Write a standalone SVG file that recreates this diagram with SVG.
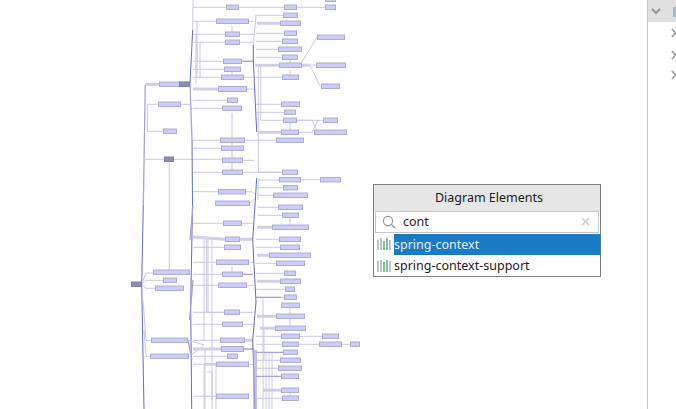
<svg xmlns="http://www.w3.org/2000/svg" width="676" height="409" viewBox="0 0 676 409">
<style>
.n rect{fill:#ccccfa;stroke:#adadd0;stroke-width:1}
.d rect{fill:#8c8cb8;stroke:#8080aa;stroke-width:1}
.l{fill:none;stroke:#c9c9e4;stroke-width:1}
.t{fill:none;stroke:#cfcfe6;stroke-width:3}
.s{fill:none;stroke:#6a6ac2;stroke-width:1}
.m{fill:none;stroke:#a4a4da;stroke-width:1.3}
text{font-family:"Noto Sans","DejaVu Sans",sans-serif;fill:#1c1c1c}
.b{fill:none;stroke-width:1.6}
</style>
<rect width="676" height="409" fill="#fff"/>
<g id="connectors">
<path class="s" d="M143.300 205L141.700 284L144 409"/>
<path class="m" d="M145.300 84.500L143.300 205"/>
<path class="t" d="M145.300 84.300H159"/>
<path class="l" d="M147.300 104.300V131.300H163M147.300 104.300H158M144 159.300H165M174 159.300H222M169.300 160V272M141.700 284.300L146 273H153M141.700 284.300L146 280.300H163M141.700 284.300L146 288.300H155M143 300L146 340.300H151M144 330L146 356.300H150M181 104.300H190L192 110"/>
<path class="l" d="M193 0L192.700 30"/>
<path class="s" d="M192.700 30L190 84M192 140L192.500 205L190.700 305L191.700 409"/>
<path class="m" d="M190 84L192 140M193 205L190 240M193 280L189.500 320M188 340L192 360"/>
<path class="l" d="M193 7.300H226M239 7.300H284M297 7.300H325M193 21.300H216M193 34.300H225M193 42.300H225M193 61.300H223M193 69.300H224M193 77.300H221M193 100.300H227M193 108.300H222M193 140.300H220M193 148.300H221M193 172.300H222M193 191.700H218M193 223.300H223M193 247.300H224M193 262.300H216M193 274.300H222M193 285.300H218M193 312.300H224M193 324.300H222M193 340.300H220M193 349H221M193 356.300H227M193 396.300H216M193 364.300H216M197 21.300V77.300M196 34.300V84M197 42.300V61M200 42.300V78M232 26V34M232 69V77M232 113V172M232 266V274M245 140.300H276M243 160.300H254M243 172.300H282M249 21.300H254M240 34.300H254M240 42.300H254M242 61.300H254M244 77.300H254M247 89H254M245 191.700H252L256 195M250 203L256 198M241.700 223.300H254M240 312.300H253M243 324.300H253M249 262.300H254M247 285.300H254M249 364.300H254"/>
<path class="l" d="M204 239V340M206.500 239V312.300M208 239V312.300H224M212 240V400M205 349V409M204 364.300V409M206 396.300H216M207 372H212V409M216 364.300V409M204 345L188 340M204 345L190 356"/>
<path class="t" d="M193 89H218M193 237L225 239.300M240 239.300H253M244 340.300H253M193 349H221M204 364.300H216"/>
<path class="m" d="M242 61.300H253M243 274.300H253M243.700 349H254"/>
<path class="l" d="M256 15L253.300 45"/>
<path class="s" d="M253.300 45V60L256.700 132M256.700 178L255 205L252.700 240L256 302L252.700 340L255 409"/>
<path class="m" d="M254 350V409M256 350V409"/>
<path class="l" d="M256 15.300H283M256 33.300H284M256 41.300H282M256 49.300H278M256 57.300H282M258.300 66V172.300H282M260.700 66V120.300H283M256 77.300H282M256 104.300H281M256 112.300H284M297 120.300H323M299 132.300H312L318 120.300M297 120.300H312L318 132.300H314M290 121V132M290 60V65M290 71V77M304 140.300H276M258 180H279M301 179.700H320M258 180V200M258 187.700H283M258 195.300H273M258 207.300H278M258 215.300H282M290 216V227M256 239.300H279M256 247.300H280M256 263.300H276M256 273.300H284M256 289.300H285M256 297.300H284M256 336.300H281M300 336.300H322M256 344.300H282M299 344.300H319M342 344.300H350M256 360.300H280M256 368.300H278M256 398.300H282M290 391V398M290 302V316M290 317V328M300 65L317 37M301 65H316M310 65L320 86M263 298V409M266 352V409M269 352V409M272 352V409M264 330V360"/>
<path class="t" d="M257 23.300H280M255 65.300H279M302 65.300H310M258 132.300H281M257 227.300H272M257 255.300H269M257 281.300H280M257 316.300H276M260 328.300H275M263 390.300H281"/>
<path class="m" d="M256 297.300H281M256 352.300H283M256 376.300H281"/>
</g>
<g class="n">
<g id="n1"><rect x="325.500" y="-3" width="10" height="4.500"/></g>
<g id="n2"><rect x="226.500" y="5" width="12" height="4.500"/></g>
<g id="n3"><rect x="284.500" y="5" width="12" height="4.500"/></g>
<g id="n4"><rect x="325.500" y="5" width="10" height="4.500"/></g>
<g id="n5"><rect x="283.500" y="13" width="14" height="4.500"/></g>
<g id="n6"><rect x="216.500" y="19" width="32" height="4.500"/></g>
<g id="n7"><rect x="280.500" y="21" width="20" height="4.500"/></g>
<g id="n8"><rect x="284.500" y="31" width="12" height="4.500"/></g>
<g id="n9"><rect x="225.500" y="32" width="14" height="4.500"/></g>
<g id="n10"><rect x="317.500" y="35" width="27" height="4.500"/></g>
<g id="n11"><rect x="282.500" y="39" width="15" height="4.500"/></g>
<g id="n12"><rect x="225.500" y="40" width="14" height="4.500"/></g>
<g id="n13"><rect x="278.500" y="47" width="23" height="4.500"/></g>
<g id="n14"><rect x="282.500" y="55" width="15" height="4.500"/></g>
<g id="n15"><rect x="223.500" y="59" width="18" height="4.500"/></g>
<g id="n16"><rect x="279.500" y="63" width="22" height="4.500"/></g>
<g id="n17"><rect x="316.500" y="63" width="29" height="4.500"/></g>
<g id="n18"><rect x="224.500" y="67" width="16" height="4.500"/></g>
<g id="n19"><rect x="221.500" y="75" width="22" height="4.500"/></g>
<g id="n20"><rect x="282.500" y="75" width="16" height="4.500"/></g>
<g id="n21"><rect x="159.500" y="82" width="30" height="4.500"/></g>
<g id="n22"><rect x="321.500" y="84" width="18" height="4.500"/></g>
<g id="n23"><rect x="218.500" y="86.500" width="28" height="5"/></g>
<g id="n24"><rect x="227.500" y="98" width="10" height="4.500"/></g>
<g id="n25"><rect x="281.500" y="102" width="18" height="4.500"/></g>
<g id="n26"><rect x="158.500" y="102" width="22" height="4.500"/></g>
<g id="n27"><rect x="222.500" y="106" width="19" height="4.500"/></g>
<g id="n28"><rect x="284.500" y="110" width="11" height="4.500"/></g>
<g id="n29"><rect x="283.500" y="118" width="13" height="4.500"/></g>
<g id="n30"><rect x="323.500" y="118" width="14" height="4.500"/></g>
<g id="n31"><rect x="163.500" y="129" width="13" height="4.500"/></g>
<g id="n32"><rect x="281.500" y="130" width="17" height="4.500"/></g>
<g id="n33"><rect x="314.500" y="130" width="32" height="4.500"/></g>
<g id="n34"><rect x="220.500" y="138" width="24" height="4.500"/></g>
<g id="n35"><rect x="276.500" y="138" width="27" height="4.500"/></g>
<g id="n36"><rect x="221.500" y="146" width="22" height="4.500"/></g>
<g id="n37"><rect x="222.500" y="158" width="20" height="4.500"/></g>
<g id="n38"><rect x="222.500" y="170" width="20" height="4.500"/></g>
<g id="n39"><rect x="282.500" y="170" width="15" height="4.500"/></g>
<g id="n40"><rect x="279.500" y="177.500" width="21" height="4.500"/></g>
<g id="n41"><rect x="320.500" y="177.500" width="20" height="4.500"/></g>
<g id="n42"><rect x="283.500" y="185.500" width="14" height="4.500"/></g>
<g id="n43"><rect x="218.500" y="189.500" width="27" height="4.500"/></g>
<g id="n44"><rect x="273.500" y="193" width="34" height="4.500"/></g>
<g id="n45"><rect x="215.500" y="201" width="34" height="4.500"/></g>
<g id="n46"><rect x="278.500" y="205" width="24" height="4.500"/></g>
<g id="n47"><rect x="282.500" y="213" width="16" height="4.500"/></g>
<g id="n48"><rect x="223.500" y="221" width="18" height="4.500"/></g>
<g id="n49"><rect x="272.500" y="225" width="36" height="4.500"/></g>
<g id="n50"><rect x="225.500" y="237" width="14" height="4.500"/></g>
<g id="n51"><rect x="279.500" y="237" width="21" height="4.500"/></g>
<g id="n52"><rect x="224.500" y="245" width="16" height="4.500"/></g>
<g id="n53"><rect x="280.500" y="245" width="19" height="4.500"/></g>
<g id="n54"><rect x="269.500" y="253" width="41" height="4.500"/></g>
<g id="n55"><rect x="216.500" y="260" width="32" height="4.500"/></g>
<g id="n56"><rect x="276.500" y="261" width="28" height="4.500"/></g>
<g id="n57"><rect x="153.500" y="270" width="36" height="4.500"/></g>
<g id="n58"><rect x="222.500" y="272" width="20" height="4.500"/></g>
<g id="n59"><rect x="284.500" y="271" width="11" height="4.500"/></g>
<g id="n60"><rect x="163.500" y="278" width="13" height="4.500"/></g>
<g id="n61"><rect x="280.500" y="279" width="20" height="4.500"/></g>
<g id="n62"><rect x="218.500" y="283" width="28" height="4.500"/></g>
<g id="n63"><rect x="155.500" y="286" width="28" height="4.500"/></g>
<g id="n64"><rect x="285.500" y="287" width="9" height="4.500"/></g>
<g id="n65"><rect x="284.500" y="295" width="12" height="4.500"/></g>
<g id="n66"><rect x="281.500" y="303" width="18" height="4.500"/></g>
<g id="n67"><rect x="224.500" y="310" width="15" height="4.500"/></g>
<g id="n68"><rect x="276.500" y="314" width="28" height="4.500"/></g>
<g id="n69"><rect x="222.500" y="322" width="20" height="4.500"/></g>
<g id="n70"><rect x="275.500" y="326" width="30" height="4.500"/></g>
<g id="n71"><rect x="281.500" y="334" width="18" height="4.500"/></g>
<g id="n72"><rect x="322.500" y="334" width="16" height="4.500"/></g>
<g id="n73"><rect x="151.500" y="338" width="36" height="4.500"/></g>
<g id="n74"><rect x="220.500" y="338" width="24" height="4.500"/></g>
<g id="n75"><rect x="282.500" y="342" width="16" height="4.500"/></g>
<g id="n76"><rect x="319.500" y="342" width="22" height="4.500"/></g>
<g id="n77"><rect x="350.500" y="342" width="9" height="4.500"/></g>
<g id="n78"><rect x="221.500" y="346.500" width="22" height="5"/></g>
<g id="n79"><rect x="283.500" y="350" width="14" height="4.500"/></g>
<g id="n80"><rect x="227.500" y="354" width="10" height="4.500"/></g>
<g id="n81"><rect x="150.500" y="354" width="38" height="4.500"/></g>
<g id="n82"><rect x="280.500" y="358" width="20" height="4.500"/></g>
<g id="n83"><rect x="216.500" y="362" width="32" height="4.500"/></g>
<g id="n84"><rect x="278.500" y="366" width="23" height="4.500"/></g>
<g id="n85"><rect x="281.500" y="374" width="17" height="4.500"/></g>
<g id="n86"><rect x="281.500" y="388" width="17" height="4.500"/></g>
<g id="n87"><rect x="216.500" y="394" width="32" height="4.500"/></g>
<g id="n88"><rect x="282.500" y="396" width="16" height="4.500"/></g>
</g>
<g class="d">
<g id="n89"><rect x="179.500" y="82" width="10" height="4.500"/></g>
<g id="n90"><rect x="164.500" y="157" width="9" height="4.500"/></g>
<g id="n91"><rect x="131.500" y="282" width="10" height="4.500"/></g>
</g>
<g id="popup">
<rect x="373.500" y="184.500" width="227" height="92" fill="#fff" stroke="#808080"/>
<rect x="374" y="185" width="226" height="26" fill="#e6e6e6"/>
<text x="489" y="202" font-size="12.500" text-anchor="middle">Diagram Elements</text>
<rect x="375.500" y="211.500" width="223" height="21" fill="#fff" stroke="#c8c8c8"/>
<circle cx="388" cy="221" r="4.600" fill="none" stroke="#909090" stroke-width="1.100"/>
<path d="M391.500 224.500L395 228" stroke="#909090" stroke-width="1.200"/>
<text x="403" y="226" font-size="12.500">cont</text>
<path d="M582 218L589 225M589 218L582 225" stroke="#c4c4c4" stroke-width="1.100"/>
<rect x="394" y="234" width="206.500" height="21" fill="#1a7ac4"/>
<g class="b">
<path d="M378 239.500V250" stroke="#a8b4bc"/><path d="M381 238V250" stroke="#a8b4bc"/><path d="M384 241V250" stroke="#6cb04c"/><path d="M387 238V250" stroke="#5aa8d0"/><path d="M390 240V250" stroke="#a8b4bc"/>
<path d="M378 260.500V272" stroke="#a8b4bc"/><path d="M381 260V272" stroke="#a8b4bc"/><path d="M384 262V272" stroke="#6cb04c"/><path d="M387 260V272" stroke="#5aa8d0"/><path d="M390 261V272" stroke="#a8b4bc"/>
</g>
<text x="394" y="249" font-size="12.500" style="fill:#e8f0f8">spring-context</text>
<text x="394" y="270" font-size="12.500">spring-context-support</text>
</g>
<g id="side">
<path d="M647.500 0V409" stroke="#c4c4c4"/>
<rect x="648" y="0" width="28" height="22" fill="#e0e0e0"/>
<path d="M652 9L656 13L660 9" fill="none" stroke="#909090" stroke-width="1.800"/>
<rect x="673" y="7" width="3" height="10" fill="#a8b8c0"/>
<path d="M672 29L675.500 33L672 37M672 51L675.500 55L672 59M672 71L675.500 75L672 79" fill="none" stroke="#a0a0a0" stroke-width="1.800"/>
</g>
</svg>
